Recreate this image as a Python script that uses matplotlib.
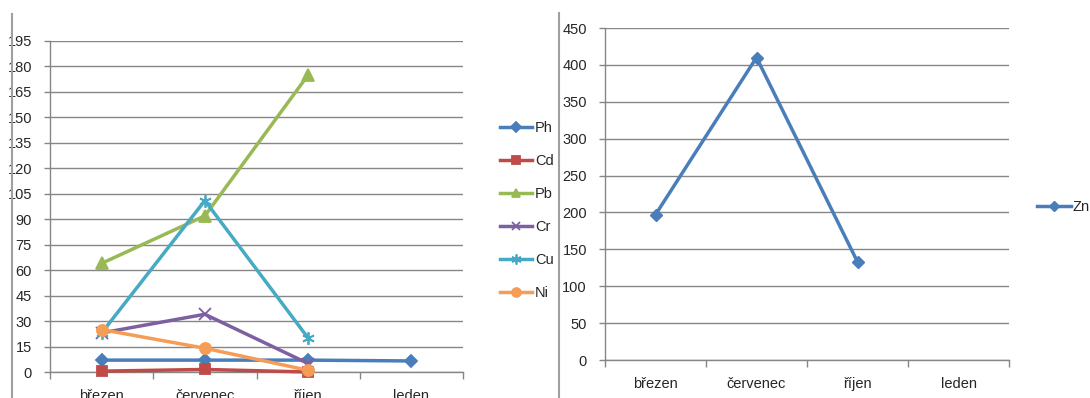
import matplotlib
matplotlib.use("Agg")
import matplotlib.pyplot as plt
import numpy as np

plt.rcParams['font.family'] = ['Liberation Sans', 'DejaVu Sans']

# data
months = ['březen', 'červenec', 'říjen', 'leden']
ph = [7, 7, 7, 6.5]
cd = [0.5, 1.5, 0, np.nan]
pb = [64, 92, 175, np.nan]
cr = [23, 34, 5, np.nan]
cu = [23, 101, 20, np.nan]
ni = [25, 14, 1, np.nan]
zn = [197, 410, 133, np.nan]

W, H = 1090, 398
GRID = '#868686'
TXT = '#262626'


def px_axes(fig, left, top, right, bottom):
    return fig.add_axes([left / W, 1 - bottom / H, (right - left) / W, (bottom - top) / H])


def style_axes(ax, ymax, ystep):
    x = np.arange(len(months))
    ax.set_xlim(-0.5, len(months) - 0.5)
    ax.set_ylim(0, ymax)
    ax.set_yticks(np.arange(0, ymax + 1, ystep))
    ax.set_xticks(x)
    ax.set_xticklabels(months)
    ax.set_xticks(np.arange(-0.5, len(months)), minor=True)
    ax.tick_params(axis='x', which='major', length=0, pad=12, labelsize=10.5, colors=TXT)
    ax.tick_params(axis='x', which='minor', length=5, width=1, color=GRID, direction='out')
    ax.tick_params(axis='y', length=4, width=1, color=GRID, pad=9, labelsize=10.5, labelcolor=TXT)
    ax.grid(axis='y', color=GRID, lw=1)
    ax.set_axisbelow(True)
    for s in ['top', 'right']:
        ax.spines[s].set_visible(False)
    for s in ['left', 'bottom']:
        ax.spines[s].set_color(GRID)
        ax.spines[s].set_linewidth(1)


fig = plt.figure(figsize=(W / 100, H / 100), dpi=100)
fig.patch.set_facecolor('white')

# panel borders
fig.add_artist(plt.Line2D([12 / W, 12 / W], [0, 1 - 14 / H], color='#a0a0a0', lw=1.5))
fig.add_artist(plt.Line2D([559 / W, 559 / W], [0, 1 - 13 / H], color='#a0a0a0', lw=1.5))

# left chart
ax1 = px_axes(fig, 50, 41, 463, 372)
style_axes(ax1, 195, 15)
x = np.arange(len(months))
series = [
    ('Ph', ph, '#4A7EBB', 'D', 6),
    ('Cd', cd, '#BE4B48', 's', 7),
    ('Pb', pb, '#98B954', '^', 8),
    ('Cr', cr, '#7D60A0', 'x', 8),
    ('Cu', cu, '#46AAC5', (6, 2, 0), 9),
    ('Ni', ni, '#F59D56', 'o', 8),
]
handles = []
for name, vals, col, mk, ms in series:
    h, = ax1.plot(x, vals, color=col, lw=2.5, marker=mk, ms=ms, mew=1.3,
                  mec=col, mfc=col, label=name, clip_on=False, zorder=3)
    handles.append(h)
ax1.legend(handles=handles, loc='upper left', bbox_to_anchor=(487 / W, 1 - 108 / H),
           bbox_transform=fig.transFigure, frameon=False, fontsize=10.5,
           handlelength=2.2, handletextpad=0.2, labelspacing=1.3, labelcolor=TXT,
           markerscale=0.8)

# right chart
ax2 = px_axes(fig, 605, 28, 1009, 360)
style_axes(ax2, 450, 50)
h, = ax2.plot(x, zn, color='#4A7EBB', lw=2.5, marker='D', ms=6, label='Zn', zorder=3)
ax2.legend(handles=[h], loc='center left', bbox_to_anchor=(1024 / W, 1 - 207 / H),
           bbox_transform=fig.transFigure, frameon=False, fontsize=10.5,
           handlelength=2.3, handletextpad=0.1, labelcolor=TXT, markerscale=0.8)

fig.savefig('out.png', dpi=100, facecolor='white')
